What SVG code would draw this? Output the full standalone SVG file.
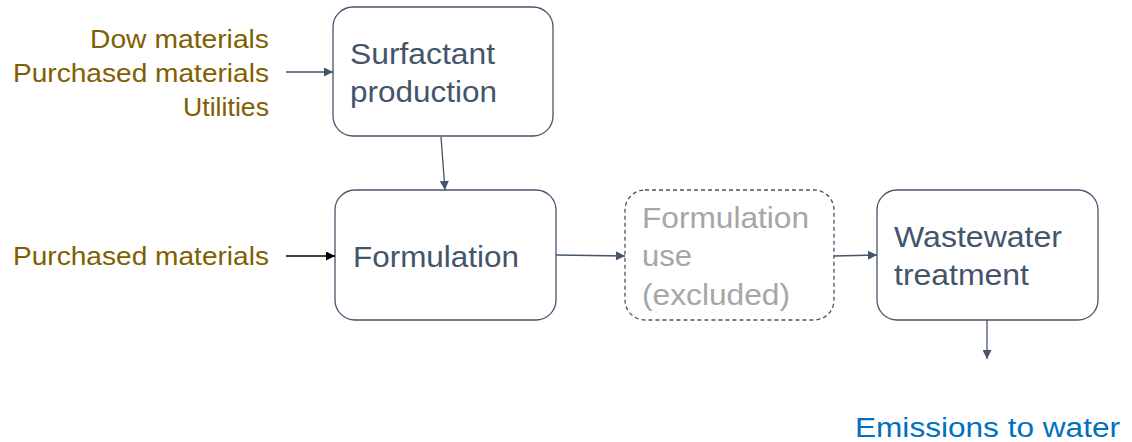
<svg xmlns="http://www.w3.org/2000/svg" width="1132" height="442" viewBox="0 0 1132 442">
<style>
.box{fill:#fff;stroke:#44546a;stroke-width:1.3}
.dash{fill:#fff;stroke:#44546a;stroke-width:1.3;stroke-dasharray:4 3}
text{font-family:"Liberation Sans",Arial,sans-serif}
.t{font-size:29px;fill:#44546a}
.g{font-size:29px;fill:#a6a6a6}
.in{font-size:25px;fill:#7f6000;text-anchor:end}
.em{font-size:27px;fill:#0070c0}
.c{fill:none;stroke:#44546a;stroke-width:1.3}
</style>
<defs>
<marker id="a" viewBox="0 0 10 10" refX="10" refY="5" markerWidth="10" markerHeight="9" markerUnits="userSpaceOnUse" orient="auto"><path d="M0,0L10,5L0,10z" fill="#44546a"/></marker>
<marker id="k" viewBox="0 0 10 10" refX="10" refY="5" markerWidth="10" markerHeight="9" markerUnits="userSpaceOnUse" orient="auto"><path d="M0,0L10,5L0,10z" fill="#000"/></marker>
</defs>
<g id="inputs1">
<text class="in" x="269" y="48" textLength="179" lengthAdjust="spacingAndGlyphs">Dow materials</text>
<text class="in" x="269" y="82" textLength="256" lengthAdjust="spacingAndGlyphs">Purchased materials</text>
<text class="in" x="269" y="116" textLength="86" lengthAdjust="spacingAndGlyphs">Utilities</text>
</g>
<g id="inputs2"><text class="in" x="269" y="265" textLength="256" lengthAdjust="spacingAndGlyphs">Purchased materials</text></g>
<g id="surfactant"><rect class="box" x="333" y="7" width="220" height="129" rx="20"/>
<text class="t" x="350" y="64" textLength="145" lengthAdjust="spacingAndGlyphs">Surfactant</text><text class="t" x="350" y="102" textLength="147" lengthAdjust="spacingAndGlyphs">production</text></g>
<g id="formulation"><rect class="box" x="335" y="190" width="221" height="130" rx="20"/>
<text class="t" x="353" y="267" textLength="166" lengthAdjust="spacingAndGlyphs">Formulation</text></g>
<g id="use"><rect class="dash" x="625" y="190" width="209" height="130" rx="20"/>
<text class="g" x="642" y="228" textLength="167" lengthAdjust="spacingAndGlyphs">Formulation</text><text class="g" x="642" y="266" textLength="50" lengthAdjust="spacingAndGlyphs">use</text><text class="g" x="642" y="305" textLength="148" lengthAdjust="spacingAndGlyphs">(excluded)</text></g>
<g id="wastewater"><rect class="box" x="877" y="190" width="221" height="130" rx="20"/>
<text class="t" x="894" y="247" textLength="168" lengthAdjust="spacingAndGlyphs">Wastewater</text><text class="t" x="894" y="285" textLength="135" lengthAdjust="spacingAndGlyphs">treatment</text></g>
<g id="emissions"><text class="em" x="855" y="437" textLength="265" lengthAdjust="spacingAndGlyphs">Emissions to water</text></g>
<g id="connectors">
<path class="c" d="M286,72L333,72" marker-end="url(#a)"/>
<path class="c" d="M441,137L445,190" marker-end="url(#a)"/>
<path d="M286,256L335,256" fill="none" stroke="#000" stroke-width="1.3" marker-end="url(#k)"/>
<path class="c" d="M556,255L625,256" marker-end="url(#a)"/>
<path class="c" d="M834,256L877,255" marker-end="url(#a)"/>
<path class="c" d="M987,320L987,359" marker-end="url(#a)"/>
</g>
</svg>
